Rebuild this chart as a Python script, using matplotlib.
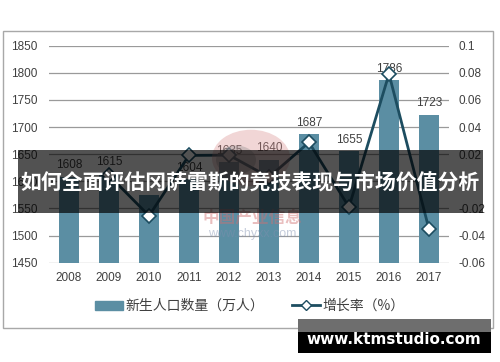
import numpy as np
import matplotlib.pyplot as plt
from matplotlib.patches import Rectangle, Circle
from matplotlib.lines import Line2D
from matplotlib.ticker import FuncFormatter

plt.rcParams['font.family'] = ['Liberation Sans', 'Noto Sans CJK SC', 'DejaVu Sans']

years = ['2008', '2009', '2010', '2011', '2012', '2013', '2014', '2015', '2016', '2017']
births = [1608, 1615, 1574, 1604, 1635, 1640, 1687, 1655, 1786, 1723]
growth = [np.nan, 0.0044, -0.0254, 0.0191, 0.0193, 0.0031, 0.0287, -0.0190, 0.0792, -0.0353]
bar_labels = ['1608', '1615', '', '1604', '1635', '1640', '1687', '1655', '1786', '1723']

bar_color = '#5b8ea3'
line_color = '#1d4d60'
txt_color = '#404040'

fig = plt.figure(figsize=(5, 3.62), dpi=100)
W, H = 500, 362

def fx(px):
    return px / W

def fy(py):
    return 1 - py / H

# chart frame
fig.patches.append(Rectangle((fx(3), fy(328)), fx(493) - fx(3), fy(31) - fy(328),
                             transform=fig.transFigure, fill=False,
                             edgecolor='#a8a8a8', linewidth=1.0, zorder=0))

ax = fig.add_axes([fx(49), fy(262.7), fx(449) - fx(49), fy(45.7) - fy(262.7)])
x = np.arange(len(years))
ax.bar(x, births, width=0.5, color=bar_color, zorder=2)
ax.set_ylim(1450, 1850)
ax.set_xlim(-0.5, len(years) - 0.5)
ax.set_yticks(np.arange(1450, 1851, 50))
ax.set_xticks(x)
ax.set_xticklabels(years)
ax.grid(axis='y', color='#9a9a9a', linewidth=0.9, zorder=0)
ax.set_axisbelow(True)
for s in ax.spines.values():
    s.set_visible(False)
ax.tick_params(axis='both', length=0, labelsize=8.5, colors=txt_color)
ax.tick_params(axis='y', pad=8)
ax.tick_params(axis='x', pad=7)

for xi, v, lab in zip(x, births, bar_labels):
    if lab:
        ax.annotate(lab, (xi, v), xytext=(0, 4), textcoords='offset points',
                    ha='center', va='bottom', fontsize=8.5, color=txt_color, zorder=5)

ax2 = ax.twinx()
ax2.set_ylim(-0.06, 0.1)
ax2.set_yticks([-0.06, -0.04, -0.02, 0, 0.02, 0.04, 0.06, 0.08, 0.1])
ax2.yaxis.set_major_formatter(FuncFormatter(lambda v, p: '%g' % round(v, 2)))
for s in ax2.spines.values():
    s.set_visible(False)
ax2.tick_params(axis='y', length=0, labelsize=8.5, colors=txt_color, pad=7)
ax2.plot(x, growth, color=line_color, linewidth=2.0, marker='D', markersize=7,
         markerfacecolor='white', markeredgecolor=line_color, markeredgewidth=1.2, zorder=4)

# faint source watermark
fig.patches.append(Circle((fx(251), fy(158)), fx(39), transform=fig.transFigure,
                          facecolor='#d98a8a', alpha=0.35, edgecolor='none', zorder=6))
fig.patches.append(Circle((fx(236), fy(160)), fx(20), transform=fig.transFigure,
                          facecolor='#8a8a8a', alpha=0.35, edgecolor='none', zorder=6))
fig.text(fx(252), fy(217), '中国产业信息', ha='center', va='center', fontsize=12,
         fontweight='bold', color='#d07070', alpha=0.45, family=['Noto Sans CJK SC'], zorder=7)
fig.text(fx(252), fy(234), 'www.chyxx.com', ha='center', va='center', fontsize=9,
         color='#8090b0', alpha=0.45, zorder=7)

# legend
handles = [Rectangle((0, 0), 1, 1, color=bar_color),
           Line2D([], [], color=line_color, linewidth=2, marker='D', markersize=5,
                  markerfacecolor='white', markeredgecolor=line_color)]
fig.legend(handles, ['新生人口数量（万人）', '增长率（%）'], loc='center',
           bbox_to_anchor=(fx(250), fy(306)), ncol=2, frameon=False,
           prop={'family': ['Noto Sans CJK SC'], 'size': 10}, labelcolor=txt_color,
           handlelength=2.0, handleheight=0.6, handletextpad=0.2, columnspacing=2.0)

# title banner overlay
fig.patches.append(Rectangle((fx(18), fy(213)), fx(483) - fx(18), fy(150) - fy(213),
                             transform=fig.transFigure, facecolor='black', alpha=0.68,
                             edgecolor='none', zorder=10))
fig.text(fx(250), fy(182), '如何全面评估冈萨雷斯的竞技表现与市场价值分析', ha='center', va='center',
         fontsize=15, fontweight='bold', color='white', family=['Noto Sans CJK SC'], zorder=11)

# site watermark box
fig.patches.append(Rectangle((fx(298), fy(332)), fx(491) - fx(298), fy(319) - fy(332),
                             transform=fig.transFigure, facecolor='#6e6e6e',
                             edgecolor='none', zorder=10))
fig.patches.append(Rectangle((fx(298), fy(353)), fx(491) - fx(298), fy(332) - fy(353),
                             transform=fig.transFigure, facecolor='black',
                             edgecolor='none', zorder=10))
fig.text(fx(394), fy(339), 'www.ktmstudio.com', ha='center', va='center', fontsize=11,
         fontweight='bold', color='white', family=['DejaVu Sans'], zorder=11)

fig.savefig('out.png', dpi=100)
